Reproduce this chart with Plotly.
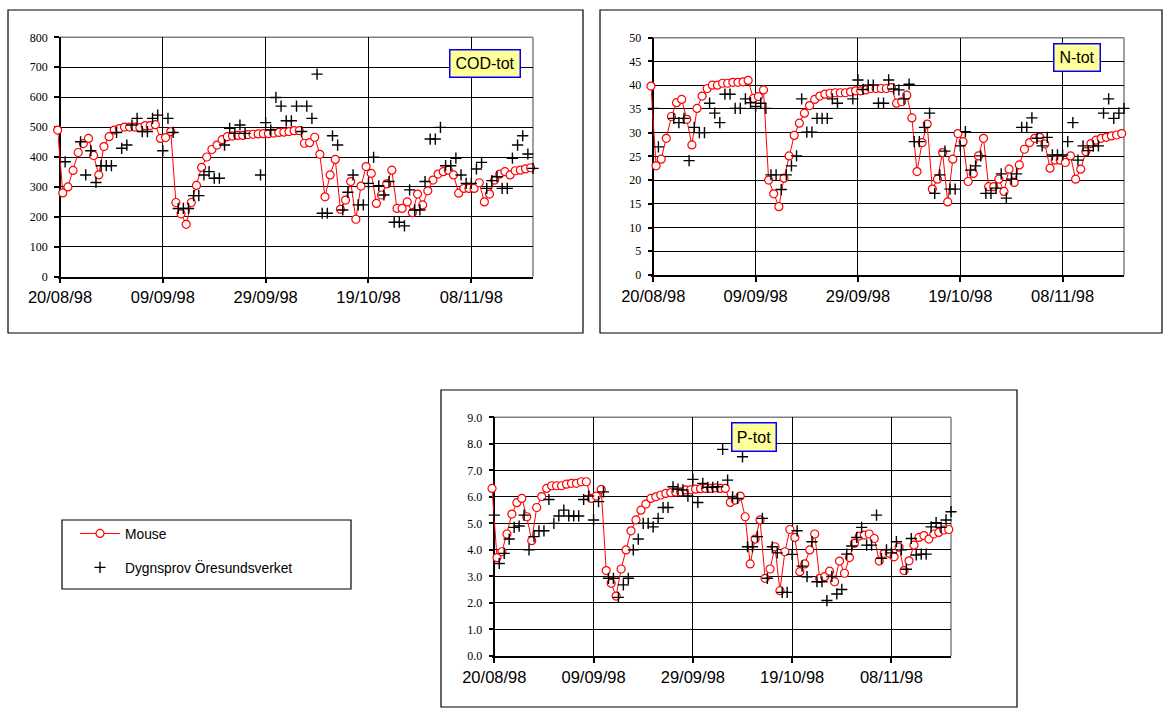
import plotly.graph_objects as go
import pandas as pd

W, H = 1163, 709

# ---------------- data ----------------
tick_dates = ['1998-08-20', '1998-09-09', '1998-09-29', '1998-10-19', '1998-11-08']
tick_labels = ['20/08/98', '09/09/98', '29/09/98', '19/10/98', '08/11/98']
x_start, x_end = '1998-08-20', '1998-11-20'
model_start = '1998-08-19 13:00'   # daily model ("Mouse") values start here

cod_model = [490, 280, 300, 355, 415, 445, 462, 405, 340, 435,
             468, 490, 495, 500, 500, 500, 498, 505, 505, 508,
             462, 465, 485, 248, 210, 175, 248, 305, 365, 400,
             425, 440, 458, 468, 470, 472, 472, 475, 476, 477,
             478, 478, 480, 482, 483, 485, 488, 488, 446, 448,
             466, 409, 267, 340, 392, 225, 256, 318, 192, 303,
             368, 345, 245, 273, 310, 356, 228, 228, 250, 214,
             276, 240, 287, 323, 343, 351, 356, 340, 279, 295,
             295, 295, 314, 250, 276, 323, 343, 351, 340, 354,
             356, 360, 364]
n_model = [39.8, 23.0, 24.4, 28.8, 33.4, 36.3, 37.0, 32.8, 27.4, 35.1,
           37.7, 39.3, 40.0, 40.0, 40.4, 40.4, 40.6, 40.6, 40.7, 41.0,
           37.2, 37.6, 39.0, 20.0, 17.1, 14.4, 20.4, 25.1, 29.4, 32.0,
           34.1, 35.7, 37.0, 37.7, 38.1, 38.3, 38.4, 38.4, 38.4, 38.6,
           38.8, 38.8, 39.0, 39.3, 39.3, 39.3, 39.3, 39.5, 36.2, 36.5,
           37.9, 33.1, 21.8, 27.9, 31.8, 18.1, 20.2, 25.8, 15.4, 24.4,
           29.8, 28.1, 19.7, 21.4, 25.1, 28.8, 18.6, 18.6, 20.2, 17.6,
           22.3, 19.5, 23.2, 26.5, 27.9, 28.8, 29.0, 27.6, 22.5, 24.2,
           24.2, 23.7, 25.1, 20.2, 22.3, 26.0, 27.7, 28.4, 28.8, 29.0,
           29.3, 29.5, 29.8]
p_model = [6.32, 3.71, 3.93, 4.60, 5.35, 5.78, 5.94, 5.25, 4.35, 5.60,
           6.01, 6.32, 6.42, 6.42, 6.42, 6.48, 6.51, 6.51, 6.57, 6.57,
           5.94, 6.03, 6.28, 3.22, 2.74, 2.26, 3.28, 4.00, 4.72, 5.13,
           5.50, 5.73, 5.94, 6.00, 6.07, 6.13, 6.16, 6.18, 6.19, 6.26,
           6.26, 6.29, 6.31, 6.32, 6.32, 6.34, 6.32, 6.32, 5.79, 5.88,
           6.03, 5.25, 3.47, 4.41, 5.13, 2.93, 3.28, 4.12, 2.46, 3.93,
           4.77, 4.47, 3.18, 3.47, 4.00, 4.60, 2.93, 2.99, 3.20, 2.80,
           3.58, 3.12, 3.71, 4.25, 4.52, 4.56, 4.60, 4.43, 3.58, 3.87,
           3.87, 3.74, 4.10, 3.22, 3.59, 4.18, 4.47, 4.54, 4.41, 4.60,
           4.66, 4.75, 4.77]

# daily samples: day number after 20/08/98 and value
cod_days = [1, 4, 5, 6, 7, 8, 9, 10, 11, 12, 13,
            14, 15, 16, 17, 18, 19, 20, 21, 22, 23,
            24, 25, 26, 27, 28, 29, 30, 31, 32, 33,
            34, 35, 36,
            39, 40, 41, 42, 43, 44, 45, 46, 47, 48,
            49, 50, 51, 52, 53, 54, 55, 56, 57, 58,
            59, 60, 61, 62, 63, 64, 65, 66, 67, 68,
            69, 70, 71, 72, 73, 74, 75, 76, 77, 78,
            79, 80, 81, 82, 83, 84, 85, 86, 87, 88,
            89, 90, 91, 92]
cod_samples = [384, 451, 340, 421, 315, 371, 371, 371, 482, 429, 440,
               507, 529, 485, 485, 529, 540, 421, 529, 482, 228,
               228, 228, 271, 271, 340, 351, 329, 329, 440, 496,
               479, 507, 479,
               340, 515, 490, 599, 570, 521, 521, 570, 485, 570,
               529, 677, 212, 212, 471, 440, 223, 282, 340, 240,
               240, 312, 399, 304, 273, 318, 182, 182, 170, 290,
               223, 223, 318, 460, 460, 499, 371, 371, 396, 340,
               312, 312, 360, 382, 295, 321, 334, 295, 295, 396,
               440, 471, 410, 362]

n_days = [0, 1, 4, 5, 6, 7, 8, 9, 10, 11, 12, 13,
          14, 15, 16, 17, 18, 19, 20, 21, 22, 23,
          24, 25, 26, 27, 28, 29, 30, 31, 32, 33,
          34, 35, 36,
          39, 40, 41, 42, 43, 44, 45, 46, 47, 48,
          49, 50, 51, 52, 53, 54, 55, 56, 57, 58,
          59, 60, 61, 62, 63, 64, 65, 66, 67, 68,
          69, 70, 71, 72, 73, 74, 75, 76, 77, 78,
          79, 80, 81, 82, 83, 84, 85, 86, 87, 88,
          89, 90, 91, 92]
n_samples = [35.1, 27.0, 33.0, 32.1, 33.0, 24.1, 31.1, 30.0, 30.0, 36.2, 34.1, 32.1,
             38.1, 38.1, 35.1, 35.1, 37.1, 36.3, 35.5, 36.2, 35.1, 21.1,
             21.1, 18.0, 21.1, 23.0, 25.1, 37.1, 30.1, 30.1, 33.0, 33.0,
             33.0, 37.1, 36.2,
             37.1, 41.1, 39.1, 40.0, 40.0, 36.2, 36.2, 41.1, 39.2, 39.0,
             37.1, 40.2, 28.1, 28.1, 31.1, 34.1, 17.2, 21.1, 26.1, 18.1,
             18.1, 27.2, 30.2, 22.1, 23.0, 25.1, 17.2, 17.2, 18.3, 21.3,
             16.2, 20.2, 21.3, 31.1, 31.1, 33.1, 28.8, 27.2, 29.0, 25.3,
             25.3, 25.3, 28.1, 32.1, 24.2, 27.2, 26.2, 27.2, 27.2, 34.1,
             37.1, 33.0, 34.1, 35.1]

p_days = [0, 1, 2, 3, 4, 5, 6, 7, 8, 9, 10, 11, 12, 13,
          14, 15, 16, 17, 18, 19, 20, 21, 22, 23,
          24, 25, 26, 27, 28, 29, 30, 31, 32, 33,
          34, 35, 36, 37, 38, 39, 40, 41, 42, 43,
          44, 45, 46, 47, 48, 49, 50, 51, 52, 53,
          54, 55, 56, 57, 58, 59, 60, 61, 62, 63,
          64, 65, 66, 67, 68, 69, 70, 71, 72, 73,
          74, 75, 76, 77, 78, 79, 80, 81, 82, 83,
          84, 85, 86, 87, 88, 89, 90, 91, 92]
p_samples = [5.31, 3.49, 3.87, 4.41, 4.85, 4.90, 5.31, 4.00, 4.50, 4.72, 4.72, 5.90, 5.00, 5.28,
             5.50, 5.28, 5.28, 5.28, 5.90, 6.03, 5.13, 5.82, 6.19, 2.93,
             2.93, 2.21, 2.68, 2.93, 4.00, 4.41, 5.00, 5.00, 4.87, 5.19,
             5.60, 5.60, 6.38, 6.29, 6.26, 6.03, 6.66, 5.79, 6.51, 6.36,
             6.36, 6.38, 7.79, 6.63, 6.00, 5.94, 7.51, 4.12, 4.12, 4.50,
             5.19, 2.93, 4.12, 3.89, 2.40, 2.40, 3.83, 4.72, 3.39, 2.99,
             4.31, 2.80, 2.80, 2.09, 3.00, 2.34, 2.51, 3.84, 4.15, 4.47,
             4.85, 4.18, 4.18, 5.31, 3.68, 4.00, 3.89, 4.31, 4.00, 3.27,
             4.43, 3.81, 3.84, 3.84, 4.87, 5.03, 4.85, 5.13, 5.44]

series_names = ['Mouse', 'Dygnsprov Öresundsverket']
panel_titles = ['COD-tot', 'N-tot', 'P-tot']


def model_dates(n):
    return pd.date_range(model_start, periods=n, freq='D')


def sample_dates(days):
    return pd.Timestamp(x_start) + pd.to_timedelta(days, unit='D')


def px(x):
    return x / W


def py(y):
    return 1 - y / H


# days the x range is extended to the left so the first model point shows
lead_days = (pd.Timestamp(x_start) - pd.Timestamp(model_start)) / pd.Timedelta(days=1)
span_days = (pd.Timestamp(x_end) - pd.Timestamp(x_start)) / pd.Timedelta(days=1)

# ---------------- layout geometry (pixels) ----------------
panels = [
    dict(model=cod_model, days=cod_days, samples=cod_samples, ax='', dom=(60, 533, 37.3, 276.7),
         yr=[0, 800], dt=100, fmt='d', title_c=(485, 63.5), title_wh=(72, 29),
         frame=(8, 10, 583, 333)),
    dict(model=n_model, days=n_days, samples=n_samples, ax='2', dom=(653.3, 1124, 37.7, 275),
         yr=[0, 50], dt=5, fmt='d', title_c=(1077, 57.5), title_wh=(48, 29),
         frame=(600, 10, 1162, 333)),
    dict(model=p_model, days=p_days, samples=p_samples, ax='3', dom=(494.3, 951, 417.3, 656),
         yr=[0, 9], dt=1, fmt='.1f', title_c=(754, 437), title_wh=(46, 30),
         frame=(441, 390, 1017, 707)),
]

fig = go.Figure()
shapes = []
annotations = []
layout_axes = {}

for i, p in enumerate(panels):
    xa = 'x' + p['ax']
    ya = 'y' + p['ax']
    first = (i == 0)
    fig.add_trace(go.Scatter(
        x=model_dates(len(p['model'])), y=p['model'], name=series_names[0],
        mode='lines+markers', xaxis=xa, yaxis=ya, cliponaxis=False,
        line=dict(color='#ff0000', width=1),
        marker=dict(symbol='circle', size=8, color='white',
                    line=dict(color='#ff0000', width=1.2)),
        legendgroup='mouse', showlegend=first))
    fig.add_trace(go.Scatter(
        x=sample_dates(p['days']), y=p['samples'], name=series_names[1],
        mode='markers', xaxis=xa, yaxis=ya, cliponaxis=False,
        marker=dict(symbol='cross-thin', size=8, color='black',
                    line=dict(color='black', width=1.4)),
        legendgroup='dyg', showlegend=first))

    x0, x1, y0, y1 = p['dom']
    per_day = (x1 - x0) / span_days
    xl = x0 - lead_days * per_day
    layout_axes['xaxis' + p['ax']] = dict(
        domain=[px(xl), px(x1)], anchor=ya, type='date',
        range=[model_start, x_end], tickvals=tick_dates, ticktext=tick_labels,
        showgrid=True, gridcolor='black', gridwidth=1,
        ticks='outside', ticklen=5, tickcolor='black', tickwidth=1.5,
        showline=True, linecolor='black', linewidth=1.5, zeroline=False,
        automargin=False, layer='below traces',
        tickfont=dict(family='Liberation Sans, Arial', size=16.5, color='black'),
        fixedrange=True)
    layout_axes['yaxis' + p['ax']] = dict(
        domain=[py(y1), py(y0)], anchor='free', position=px(x0), range=p['yr'], dtick=p['dt'],
        tickformat=p['fmt'], showgrid=True, gridcolor='black', gridwidth=1,
        ticks='outside', ticklen=5, tickcolor='black', tickwidth=1.5,
        showline=True, linecolor='black', linewidth=1.5, zeroline=False,
        ticklabelstandoff=4, automargin=False, layer='below traces',
        tickfont=dict(family='Liberation Serif, Times New Roman', size=12, color='black'),
        fixedrange=True)

    # grey top / right border of plot area
    shapes.append(dict(type='line', xref='paper', yref='paper',
                       x0=px(x0), x1=px(x1), y0=py(y0), y1=py(y0),
                       line=dict(color='#808080', width=1.5), layer='below'))
    shapes.append(dict(type='line', xref='paper', yref='paper',
                       x0=px(x1), x1=px(x1), y0=py(y0), y1=py(y1),
                       line=dict(color='#808080', width=1.5), layer='below'))
    # white strip hiding the sliver of plot area left of the y axis
    shapes.append(dict(type='rect', xref='paper', yref='paper',
                       x0=px(xl - 0.5), x1=px(x0 - 0.8), y0=py(y1 - 1), y1=py(y0 - 1),
                       fillcolor='white', line=dict(width=0), layer='below'))
    # outer frame
    fx0, fy0, fx1, fy1 = p['frame']
    shapes.append(dict(type='rect', xref='paper', yref='paper',
                       x0=px(fx0), x1=px(fx1), y0=py(fy1), y1=py(fy0),
                       line=dict(color='black', width=1.2), layer='below'))
    # title box
    cx, cy = p['title_c']
    tw, th = p['title_wh']
    annotations.append(dict(
        text=panel_titles[i], xref='paper', yref='paper', x=px(cx), y=py(cy),
        xanchor='center', yanchor='middle', showarrow=False,
        width=tw - 3, height=th - 3, borderpad=0,
        bgcolor='#ffff99', bordercolor='#0000ff', borderwidth=1.5,
        font=dict(family='Liberation Sans, Arial', size=16, color='black')))

# legend box
shapes.append(dict(type='rect', xref='paper', yref='paper',
                   x0=px(62), x1=px(351), y0=py(589), y1=py(520),
                   line=dict(color='black', width=1.2)))

fig.update_layout(
    width=W, height=H, autosize=False,
    margin=dict(l=0, r=0, t=0, b=0, pad=0, autoexpand=False),
    paper_bgcolor='white', plot_bgcolor='white',
    shapes=shapes, annotations=annotations,
    showlegend=True,
    legend=dict(x=px(75), y=py(518), xanchor='left', yanchor='top',
                bgcolor='rgba(0,0,0,0)', borderwidth=0,
                traceorder='grouped', tracegroupgap=13, itemwidth=40,
                font=dict(family='Liberation Sans, Arial', size=13.8, color='black')),
    **layout_axes)

fig.write_html("out.html", config={'displayModeBar': False},
               post_script="document.body.style.margin='0';")
